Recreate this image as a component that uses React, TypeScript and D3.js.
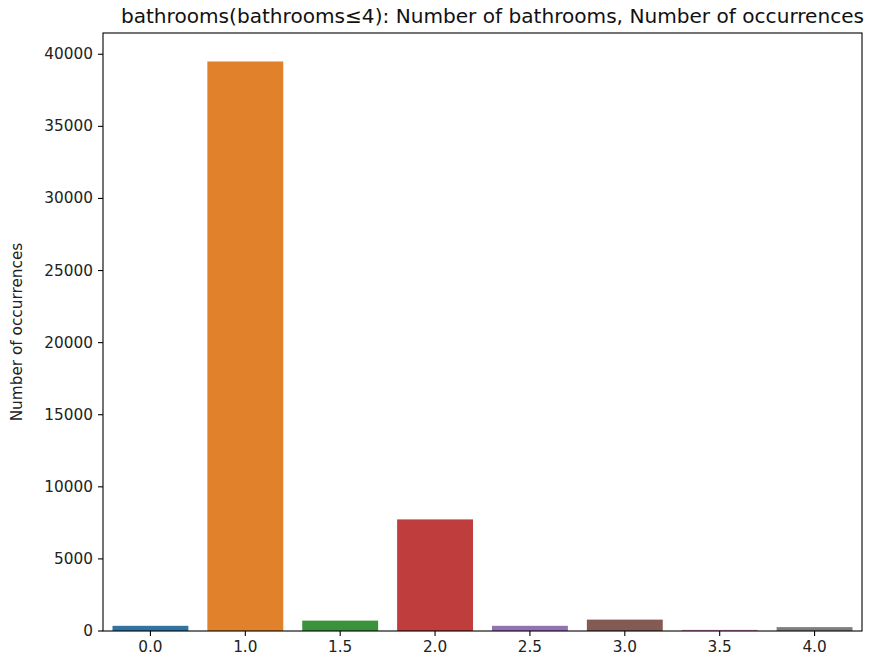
import React from "react";
import * as d3 from "d3";

const categories = ["0.0", "1.0", "1.5", "2.0", "2.5", "3.0", "3.5", "4.0"];
const counts = [360, 39500, 720, 7740, 360, 790, 80, 270];
const colors = ["#3274a1", "#e1812c", "#3a923a", "#c03d3e", "#9372b2", "#845b53", "#d684bd", "#7f7f7f"];
const yTicks = [0, 5000, 10000, 15000, 20000, 25000, 30000, 35000, 40000];
const titleText = "bathrooms(bathrooms≤4): Number of bathrooms, Number of occurrences";
const yLabel = "Number of occurrences";

const W = 880, H = 672;
const left = 103, right = 862, top = 33, bottom = 631;
const font = "'DejaVu Sans', sans-serif";

export default function App() {
  const x = d3.scaleBand<string>().domain(categories).range([left, right]).paddingInner(0.2).paddingOuter(0.1);
  const xc = d3.scaleBand<string>().domain(categories).range([left, right]);
  const yMax = d3.max(counts)! * 1.05;
  const y = d3.scaleLinear().domain([0, yMax]).range([bottom, top]);
  return (
    <svg width={W} height={H} style={{ position: "absolute", left: 0, top: 0, background: "#fff" }} fontFamily={font}>
      <rect x={0} y={0} width={W} height={H} fill="#fff" />
      {counts.map((v, i) => (
        <rect key={i} x={x(categories[i])} y={y(v)} width={x.bandwidth()} height={bottom - y(v)} fill={colors[i]} />
      ))}
      <rect x={left} y={top} width={right - left} height={bottom - top} fill="none" stroke="#000" strokeWidth={1.1} />
      {yTicks.map((t) => (
        <g key={t}>
          <line x1={left - 5} x2={left} y1={y(t)} y2={y(t)} stroke="#000" strokeWidth={1.1} />
          <text x={left - 10} y={y(t)} textAnchor="end" dominantBaseline="central" fontSize={15.3} fill="#222">{t}</text>
        </g>
      ))}
      {categories.map((c) => {
        const cx = xc(c)! + xc.bandwidth() / 2;
        return (
          <g key={c}>
            <line x1={cx} x2={cx} y1={bottom} y2={bottom + 5} stroke="#000" strokeWidth={1.1} />
            <text x={cx} y={bottom + 10} textAnchor="middle" dominantBaseline="hanging" fontSize={15.3} fill="#222">{c}</text>
          </g>
        );
      })}
      <text x={(left + right) / 2 + 10} y={top - 10} textAnchor="middle" fontSize={20.1} fill="#111">{titleText}</text>
      <text transform={`translate(22,${(top + bottom) / 2}) rotate(-90)`} textAnchor="middle" fontSize={15.3} fill="#222">{yLabel}</text>
    </svg>
  );
}
